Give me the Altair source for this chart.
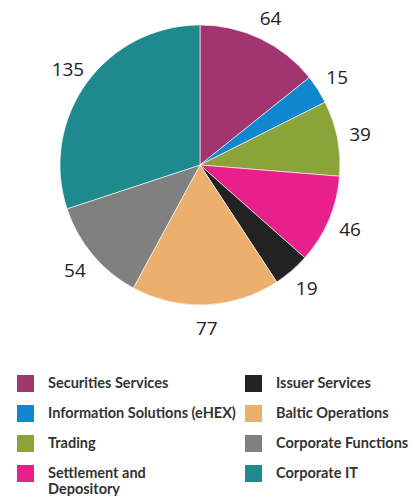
import altair as alt
import pandas as pd

categories = [
    "Securities Services",
    "Information Solutions (eHEX)",
    "Trading",
    "Settlement and Depository",
    "Issuer Services",
    "Baltic Operations",
    "Corporate Functions",
    "Corporate IT",
]
values = [64, 15, 39, 46, 19, 77, 54, 135]
colors = ["#a2346f", "#1088cf", "#8aa43a", "#e8208c", "#222222", "#ecb06e", "#808080", "#1f8a8e"]

df = pd.DataFrame({"category": categories, "value": values, "ord": list(range(len(categories)))})

color = alt.Color(
    "category:N",
    scale=alt.Scale(domain=categories, range=colors),
    legend=alt.Legend(
        title=None,
        orient="none",
        legendX=9,
        legendY=367,
        columns=2,
        symbolType="square",
        symbolSize=289,
        symbolStrokeWidth=0,
        symbolOpacity=1,
        labelFontSize=14.5,
        labelFont="Lato",
        labelFontWeight="bold",
        labelColor="#333333",
        labelOffset=14,
        labelLimit=300,
        rowPadding=13,
        columnPadding=9,
        labelExpr="datum.label == 'Settlement and Depository' ? ['Settlement and', 'Depository'] : datum.label",
    ),
)

base = alt.Chart(df).encode(
    theta=alt.Theta("value:Q", stack=True),
    order=alt.Order("ord:Q"),
)

pie = base.mark_arc(radius=140, stroke="white", strokeWidth=0.6).encode(
    color=color, x=alt.value(192), y=alt.value(157)
)
labels = base.mark_text(radius=163, fontSize=19, font="Open Sans", fontWeight=500, color="#222222").encode(
    text="value:Q", x=alt.value(192), y=alt.value(158)
)

chart = (
    alt.layer(pie, labels)
    .properties(width=403, height=488, autosize="none", padding=0)
    .configure_view(stroke=None)
)
chart.save("out.html", embed_options={"renderer": "svg", "actions": False})
